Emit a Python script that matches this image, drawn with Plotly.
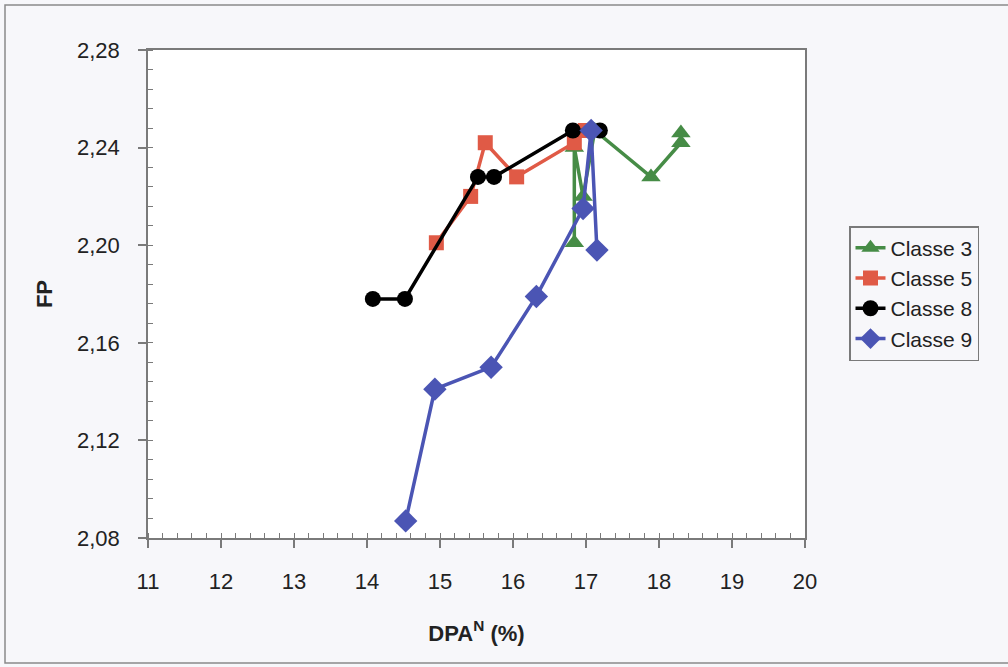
import plotly.graph_objects as go

classe3_x = [16.84, 16.84, 16.96, 17.12, 17.89, 18.30, 18.30]
classe3_y = [2.201, 2.240, 2.220, 2.247, 2.228, 2.242, 2.246]

classe5_x = [14.95, 15.42, 15.62, 16.05, 16.84, 16.99]
classe5_y = [2.201, 2.220, 2.242, 2.228, 2.242, 2.247]

classe8_x = [14.08, 14.52, 15.52, 15.74, 16.82, 17.19]
classe8_y = [2.178, 2.178, 2.228, 2.228, 2.247, 2.247]

classe9_x = [14.53, 14.93, 15.70, 16.32, 16.96, 17.07, 17.15]
classe9_y = [2.087, 2.141, 2.150, 2.179, 2.215, 2.247, 2.198]

names = ["Classe 3", "Classe 5", "Classe 8", "Classe 9"]
colors = ["#468c46", "#e05a46", "#000000", "#4b55b4"]
symbols = ["triangle-up", "square", "circle", "diamond"]
sizes = [17, 15, 16, 18]

fig = go.Figure()
for xs, ys, n, c, s, sz in zip(
    [classe3_x, classe5_x, classe8_x, classe9_x],
    [classe3_y, classe5_y, classe8_y, classe9_y],
    names, colors, symbols, sizes):
    fig.add_trace(go.Scatter(
        x=xs, y=ys, name=n, mode="lines+markers",
        line=dict(color=c, width=3.5),
        marker=dict(symbol=s, size=sz, color=c),
    ))

W, H = 1008, 667
L, R, T, B = 148, 805, 50, 538
pw, ph = R - L, B - T

def px(xp):
    return (xp - L) / pw

def py(yp):
    return (B - yp) / ph

axis_common = dict(
    showgrid=False, zeroline=False,
    showline=True, linecolor="#7a7a7a", linewidth=1.5, mirror=True,
    ticks="outside", tickcolor="#7a7a7a", tickwidth=1.5,
    tickfont=dict(size=22, color="#222222"),
)

fig.update_layout(
    width=W, height=H,
    margin=dict(l=L, r=W - R, t=T, b=H - B),
    paper_bgcolor="#f7f7fa",
    plot_bgcolor="#ffffff",
    separators=",.",
    font=dict(family="Liberation Sans, Arial", size=22, color="#222222"),
    showlegend=True,
    legend=dict(
        x=px(849), y=py(226), xanchor="left", yanchor="top",
        bgcolor="#f7f7fa", bordercolor="#7a7a7a", borderwidth=1.5,
        font=dict(size=21, color="#222222"),
        tracegroupgap=0,
    ),
    xaxis=dict(
        range=[11, 20], dtick=1, tick0=11, ticklen=8,
        minor=dict(dtick=0.2, ticks="inside", ticklen=5, tickcolor="#7a7a7a", tickwidth=1, showgrid=False),
        ticklabelstandoff=15,
        title=dict(text="<b>DPA<sup>N</sup> (%)</b>", font=dict(size=22), standoff=32),
        **axis_common,
    ),
    yaxis=dict(
        range=[2.08, 2.28], dtick=0.04, tick0=2.08, tickformat=".2f", ticklen=8,
        minor=dict(dtick=0.008, ticks="inside", ticklen=5, tickcolor="#7a7a7a", tickwidth=1, showgrid=False),
        ticklabelstandoff=14,
        title=dict(text="<b>FP</b>", font=dict(size=22), standoff=18),
        **axis_common,
    ),
    shapes=[dict(
        type="rect", xref="paper", yref="paper",
        x0=px(5), x1=px(1012), y0=py(663), y1=py(5),
        line=dict(color="#8a8a8a", width=1.5), fillcolor="rgba(0,0,0,0)", layer="below",
    )],
)

fig.write_html(
    "out.html",
    config={"displayModeBar": False},
    post_script="document.body.style.margin='0';document.body.style.overflow='hidden';",
)
